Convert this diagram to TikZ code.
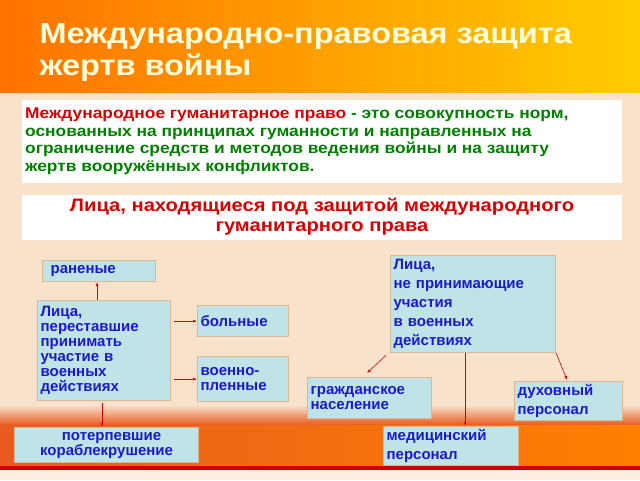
\documentclass[tikz,border=0pt]{standalone}
\usepackage{fontspec}
\setmainfont{Liberation Sans}
\newfontfamily\widefont[FakeStretch=1.12]{Liberation Sans}
\usetikzlibrary{arrows.meta}
\definecolor{boxfill}{HTML}{BFE3E6}
\definecolor{boxline}{HTML}{D8B890}
\definecolor{txtblue}{HTML}{1A1ACC}
\definecolor{peach}{HTML}{F8E2CC}
\definecolor{flame}{HTML}{E85A20}
\tikzset{
  pbox/.style={draw=boxline,line width=1.2pt,fill=boxfill,text=txtblue,font=\bfseries\fontsize{15}{15}\selectfont,
    inner sep=3pt,anchor=north west,align=left},
  link/.style={draw=red!85!black,line width=0.6pt,-{Latex[length=4pt,width=3pt]}}
}
\begin{document}
\begin{tikzpicture}[x=1pt,y=-1pt]
\useasboundingbox (0,0) rectangle (640,480);
% background
\fill[peach] (0,0) rectangle (640,480);
\shade[left color=orange!90!red,right color=orange!40!yellow] (0,0) rectangle (640,92);
\shade[top color=peach,bottom color=flame] (0,405) rectangle (640,425);
\shade[left color=flame,right color=orange] (0,425) rectangle (640,468);
\fill[red!80!black] (0,466) rectangle (640,470);
\fill[peach!60!white] (0,470) rectangle (640,480);
% title
\node[anchor=north west,text=yellow!15!white,font=\widefont\bfseries\fontsize{29}{32}\selectfont,align=left] (title) at (36,20)
  {Международно-правовая защита\\жертв войны};
% definition
\fill[white] (22,100) rectangle (622,183);
\node[anchor=north west,inner sep=2pt,font=\widefont\bfseries\fontsize{15.5}{17.5}\selectfont,text=green!50!black,align=left] (defn) at (23,106)
  {\textcolor{red!85!black}{Международное гуманитарное право} - это совокупность норм,\\основанных на принципах гуманности и направленных на\\ограничение средств и методов ведения войны и на защиту\\жертв вооружённых конфликтов.};
\fill[white] (22,195) rectangle (622,240);
\node[text=red!85!black,font=\widefont\bfseries\fontsize{18}{20}\selectfont,align=center] (head) at (322,217)
  {Лица, находящиеся под защитой международного\\гуманитарного права};
% boxes
\node[pbox,text width=107pt,minimum height=21pt] (wounded) at (42,260) {\ раненые};
\node[pbox,text width=127pt,minimum height=100pt] (ceased) at (37,300) {Лица,\\переставшие\\принимать\\участие в\\военных\\действиях};
\node[pbox,text width=85pt,minimum height=31pt,inner ysep=7pt] (sick) at (197,305) {больные};
\node[pbox,text width=85pt,minimum height=45pt,inner ysep=6pt] (pow) at (197,356) {военно-\\пленные};
\node[pbox,text width=178pt,minimum height=35pt,align=center] (ship) at (14,427) {\ \ потерпевшие\\кораблекрушение};
\node[pbox,text width=159pt,minimum height=97pt,font=\bfseries\fontsize{15}{19}\selectfont] (noncomb) at (390,255) {Лица,\\не принимающие\\участия\\в военных\\действиях};
\node[pbox,text width=118pt,minimum height=41pt,inner ysep=6pt] (civil) at (307,377) {гражданское\\население};
\node[pbox,text width=102pt,minimum height=37pt,font=\bfseries\fontsize{15}{19}\selectfont] (clergy) at (514,381) {духовный\\персонал};
\node[pbox,text width=129pt,minimum height=36pt,font=\bfseries\fontsize{15}{19}\selectfont] (medic) at (383,426) {медицинский\\персонал};
% connectors
\draw[link] (ceased.north west) ++(60,0) coordinate (c1) -- (c1 |- wounded.south);
\draw[link] (ceased.east |- sick.west) ++(3,0) -- (sick.west);
\draw[link] (ceased.east |- pow.west) ++(3,0) -- (pow.west);
\draw[link] (ceased.south west) ++(65,2) coordinate (c2) -- (c2 |- ship.north);
\draw[link] (noncomb.south west) ++(-4,2) -- (367,373);
\draw[link] (noncomb.south) ++(-8,0) coordinate (c3) -- (c3 |- medic.north);
\draw[link] (noncomb.south east) -- (567,380);
\end{tikzpicture}
\end{document}
